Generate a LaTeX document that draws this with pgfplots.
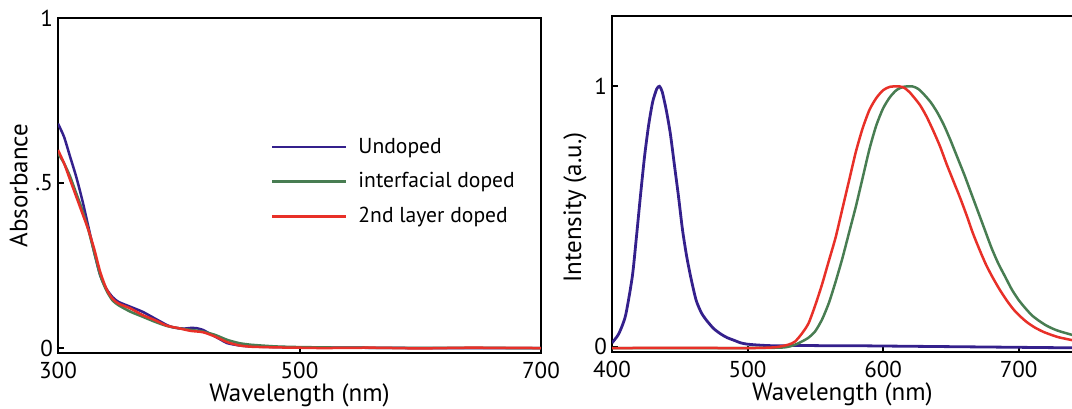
\documentclass[border=0pt]{standalone}
\usepackage{fontspec}
\setmainfont{PT Sans}
\usepackage{pgfplots}
\pgfplotsset{compat=1.18}

\definecolor{cblue}{RGB}{52,32,140}
\definecolor{cgreen}{RGB}{72,125,82}
\definecolor{cred}{RGB}{232,48,40}

\pgfplotsset{
  panel/.style={
    scale only axis,
    axis line style={line width=1.2pt},
    tick align=inside, xtick pos=bottom, ytick pos=left,
    major tick length=3pt, tick style={line width=1pt, black},
    /pgf/number format/assume math mode=true,
    every tick label/.append style={font=\fontsize{11.5}{13}\selectfont},
    every axis label/.append style={font=\fontsize{12.5}{14}\selectfont},
    xticklabel style={yshift=-1pt},
    yticklabel style={xshift=1pt},
    every axis x label/.append style={yshift=4.5pt},
    every axis plot/.append style={line width=1.25pt, no marks, smooth, tension=0.4},
  }
}

\begin{document}
\begin{tikzpicture}
\begin{axis}[panel,
  at={(0pt,0pt)}, anchor=south west,
  width=241.5pt, height=167.5pt,
  xmin=300, xmax=700, ymin=-0.015, ymax=1,
  xtick={300,500,700}, ytick={0,0.5,1}, yticklabels={0,.5,1},
  xlabel={Wavelength (nm)}, ylabel={Absorbance},
  every axis y label/.append style={yshift=-3pt},
  legend style={draw=none, fill=none, at={(rel axis cs:0.440,0.655)}, anchor=north west,
    font=\fontsize{10.8}{12}\selectfont, inner sep=0pt, row sep=4.2pt,
    nodes={inner xsep=5.5pt}},
  legend cell align=left,
  legend image code/.code={\draw[#1, sharp plot] (0pt,0pt) -- (37pt,0pt);},
]
\addplot[cblue] coordinates {
(300,0.68)(305,0.64)(310,0.58)(315,0.52)(320,0.45)(325,0.37)(330,0.29)(335,0.22)
(340,0.18)(345,0.155)(350,0.14)(360,0.125)(370,0.11)(380,0.09)(390,0.07)(395,0.063)
(400,0.060)(405,0.059)(410,0.061)(415,0.060)(420,0.055)(425,0.045)(430,0.035)
(435,0.025)(440,0.015)(450,0.008)(460,0.005)(480,0.003)(500,0.002)(550,0.001)
(600,0.0)(700,0.0)};
\addplot[cgreen] coordinates {
(300,0.59)(305,0.56)(310,0.52)(315,0.47)(320,0.42)(325,0.36)(330,0.29)(335,0.22)
(340,0.175)(345,0.145)(350,0.13)(360,0.11)(370,0.095)(380,0.08)(390,0.067)(400,0.060)
(410,0.055)(420,0.050)(430,0.040)(440,0.025)(450,0.015)(460,0.010)(480,0.005)
(500,0.003)(550,0.001)(700,0.0)};
\addplot[cred] coordinates {
(300,0.60)(305,0.56)(310,0.51)(315,0.46)(320,0.41)(325,0.36)(330,0.30)(335,0.23)
(340,0.18)(345,0.15)(350,0.135)(360,0.12)(370,0.10)(380,0.085)(390,0.068)(400,0.060)
(410,0.052)(420,0.048)(430,0.035)(440,0.018)(450,0.008)(460,0.004)(480,0.002)
(500,0.001)(520,0.0)(560,0.001)(600,-0.001)(640,0.001)(700,0.0)};
\legend{Undoped, interfacial doped, 2nd layer doped}
\end{axis}

\begin{axis}[panel,
  at={(277pt,0.5pt)}, anchor=south west,
  width=230.4pt, height=168pt,
  xmin=400, xmax=740, ymin=-0.02, ymax=1.27,
  xtick={400,500,600,700}, ytick={0,1},
  xlabel={Wavelength (nm)}, ylabel={Intensity (a.u.)},
  every axis y label/.append style={at={(ticklabel cs:0.43)}, yshift=-3pt},
]
\addplot[cblue, line width=1.4pt] coordinates {
(400,0.015)(405,0.05)(410,0.12)(415,0.27)(418,0.42)(421,0.58)(424,0.73)(427,0.85)
(430,0.94)(433,0.99)(435,1.0)(437,0.98)(440,0.91)(443,0.82)(446,0.70)(449,0.58)
(452,0.45)(455,0.35)(458,0.27)(462,0.18)(466,0.13)(470,0.10)(475,0.07)(480,0.05)
(485,0.035)(490,0.025)(495,0.015)(500,0.01)(510,0.006)(520,0.004)(540,0.005)
(560,0.004)(580,0.004)(600,0.003)(620,0.002)(640,0.001)(660,0.0)(680,-0.001)
(700,-0.002)(720,-0.003)(740,-0.004)};
\addplot[cgreen] coordinates {
(400,-0.005)(480,-0.005)(525,-0.003)(535,0.008)(540,0.02)(545,0.035)(550,0.06)
(555,0.105)(560,0.168)(565,0.25)(570,0.34)(575,0.44)(580,0.54)(585,0.65)
(590,0.76)(595,0.85)(600,0.915)(605,0.958)(610,0.986)(615,0.998)(621.5,1.0)
(626,0.99)(630,0.97)(635,0.94)(640,0.90)(645,0.85)(650,0.79)(655,0.725)(660,0.66)
(665,0.59)(670,0.52)(675,0.45)(680,0.38)(685,0.32)(690,0.27)(695,0.22)(700,0.18)
(705,0.148)(710,0.12)(715,0.10)(720,0.083)(725,0.07)(730,0.06)(740,0.045)};
\addplot[cred] coordinates {
(400,-0.005)(450,-0.004)(500,-0.005)(520,-0.002)(530,0.008)(535,0.02)(540,0.05)
(545,0.09)(550,0.16)(555,0.24)(560,0.33)(565,0.42)(570,0.53)(575,0.64)(580,0.75)
(585,0.84)(590,0.91)(595,0.955)(600,0.985)(605,0.998)(612,1.0)(616,0.993)(620,0.975)
(627,0.93)(632,0.885)(637,0.83)(642,0.77)(647,0.70)(652,0.635)(657,0.57)(662,0.50)
(666,0.44)(671,0.375)(676,0.315)(681,0.265)(686,0.22)(691,0.18)(696,0.145)(701,0.118)
(706,0.095)(712,0.074)(718,0.058)(724,0.046)(730,0.036)(740,0.025)};
\end{axis}
\pgfresetboundingbox
\path[use as bounding box] (-29pt,-27.5pt) rectangle (507pt,176.5pt);
\end{tikzpicture}
\end{document}
